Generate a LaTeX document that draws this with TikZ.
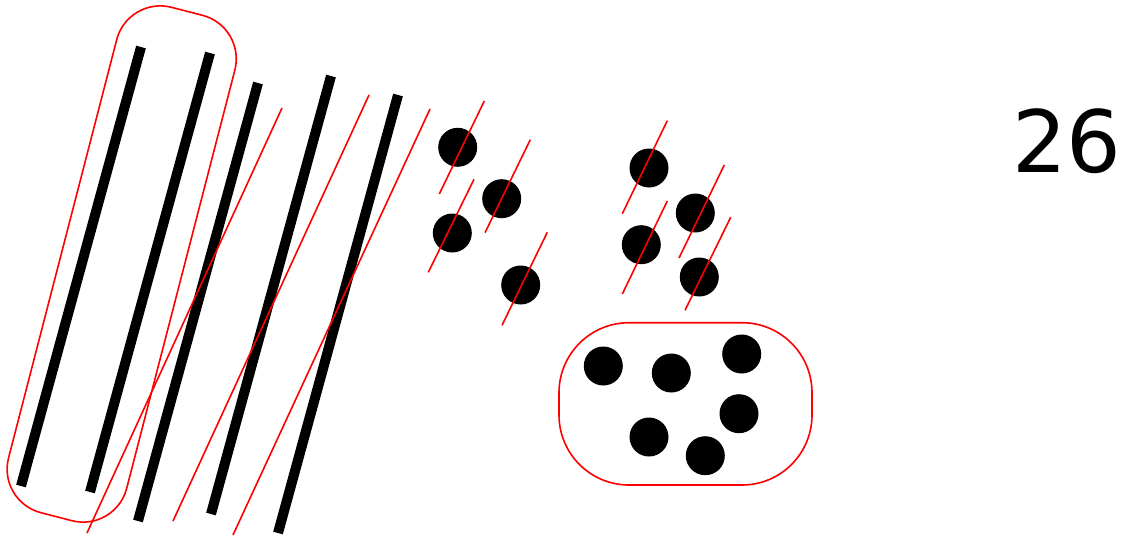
\documentclass[tikz,border=0pt]{standalone}
\usepackage{fontspec}
\newfontfamily\dejavu{DejaVu Sans}
\begin{document}
\begin{tikzpicture}[x=1pt,y=-1pt,
  stick/.style={line width=10pt,line cap=butt},
  slash/.style={red,line width=1.6pt},
  outline/.style={red,line width=1.6pt},
  dot/.style={fill=black}]
\useasboundingbox (0,0) rectangle (1122,536);
% capsule around first two sticks
\draw[outline,rounded corners=45pt,shift={(121.7,264)},rotate=-14.5] (-61,-261) rectangle (61,261);
% sticks
\draw[stick] (141,47) -- (21,486);
\draw[stick] (210,53) -- (90,492);
\draw[stick] (258,83) -- (138,521);
\draw[stick] (331,76) -- (211,514);
\draw[stick] (398,95) -- (278,533);
% long red lines
\draw[slash] (282,108) -- (87,533);
\draw[slash] (369,95) -- (173,521);
\draw[slash] (430,109) -- (233,535);
% dots with slashes
\fill[dot] (457.7,147.3) circle (19.5);
\fill[dot] (501.7,198.7) circle (19.5);
\fill[dot] (452.3,233) circle (19.5);
\fill[dot] (520.7,285) circle (19.5);
\fill[dot] (649,168) circle (19.5);
\fill[dot] (695.3,213) circle (19.5);
\fill[dot] (641.3,244.7) circle (19.5);
\fill[dot] (699.3,277) circle (19.5);
\draw[slash] (484.3,101) -- (439.3,194);
\draw[slash] (530.3,139.7) -- (485,232.7);
\draw[slash] (474,179.3) -- (428.3,272.3);
\draw[slash] (547.3,232.3) -- (502,325.3);
\draw[slash] (667.3,120.7) -- (622.3,213.7);
\draw[slash] (724.3,165) -- (679,258);
\draw[slash] (667.3,201) -- (622.3,294);
\draw[slash] (730.7,217.3) -- (685,310.3);
% grouped dots
\draw[outline,rounded corners=70pt] (559,322.7) rectangle (812,485);
\fill[dot] (603.3,366) circle (19.5);
\fill[dot] (671.3,373) circle (19.5);
\fill[dot] (741.7,354) circle (19.5);
\fill[dot] (739,413.7) circle (19.5);
\fill[dot] (649,437) circle (19.5);
\fill[dot] (705.3,455.7) circle (19.5);
% number
\node[inner sep=0pt,font=\dejavu\fontsize{86}{86}\selectfont] (num) at (1067,141) {26};
\end{tikzpicture}
\end{document}
